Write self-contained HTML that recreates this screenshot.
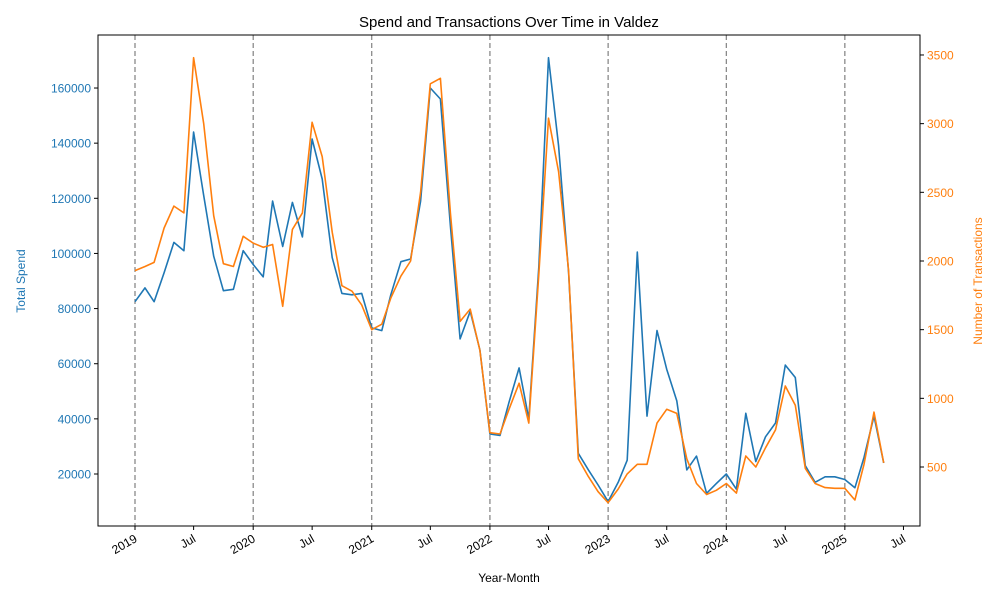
<!DOCTYPE html>
<html><head><meta charset="utf-8"><style>
body{margin:0;background:#fff}
svg text{font-family:"Liberation Sans","DejaVu Sans",sans-serif}
</style></head><body>
<svg id="c" width="1000" height="600" xmlns="http://www.w3.org/2000/svg"></svg>
<script>
const months = [];
for (let y = 2019; y <= 2025; y++) for (let m = 0; m < 12; m++) { if (y === 2025 && m > 4) break; months.push([y, m]); }
const spendValues = [82500,87500,82500,93000,104000,101000,144000,121000,99000,86500,87000,101000,
96000,91500,119000,102500,118500,106000,141500,127000,98500,85500,85000,85500,
73000,72000,85000,97000,98000,119000,160000,156000,110000,69000,79000,65000,
34500,34000,46000,58500,40000,95000,171000,139000,93000,27500,21500,16000,
10000,17000,25000,100500,41000,72000,58000,46500,21500,26500,13000,16500,
20000,14500,42000,24500,33500,38500,59500,55000,23000,17000,19000,19000,
18000,15000,26000,41000,24000];
const txValues = [1930,1960,1990,2240,2400,2350,3480,3000,2330,1980,1960,2180,
2130,2100,2120,1670,2230,2350,3010,2760,2210,1820,1780,1680,
1500,1540,1730,1890,2000,2500,3290,3330,2350,1560,1650,1350,
750,740,920,1110,820,1900,3040,2650,1930,560,430,320,
240,340,450,520,520,820,920,890,560,380,300,330,
380,310,580,500,640,770,1090,950,490,380,350,345,
345,260,520,900,530];
const leftTicks = [20000,40000,60000,80000,100000,120000,140000,160000];
const rightTicks = [500,1000,1500,2000,2500,3000,3500];
const xTickLabels = ["2019","Jul","2020","Jul","2021","Jul","2022","Jul","2023","Jul","2024","Jul","2025","Jul"];

const svg = document.getElementById('c');
const NS = 'http://www.w3.org/2000/svg';
function mk(tag, attrs, parent) { const e = document.createElementNS(NS, tag); for (const k in attrs) e.setAttribute(k, attrs[k]); (parent || svg).appendChild(e); return e; }
const L = 98, R = 920, T = 35, B = 526;
const t0 = Date.UTC(2019, 0, 1), yr = Date.UTC(2020, 0, 1) - t0;
function xS(y, m) { return 135 + (Date.UTC(y, m, 1) - t0) / yr * 118.2; }
function yL(v) { return 474 - (v - 20000) / 20000 * 55.14; }
function yR(v) { return 467 - (v - 500) / 500 * 68.67; }

const title = mk('text', {x: 509, y: 27, 'text-anchor': 'middle', 'font-size': 15});
title.textContent = 'Spend and Transactions Over Time in Valdez';



// year lines
for (let y = 2019; y <= 2025; y++) {
  const l = mk('line', {x1: xS(y,0), x2: xS(y,0), y1: T, y2: B, stroke: '#808080', 'stroke-width': 1.2, 'stroke-dasharray': '5,3'});
  
  
}
// x ticks
xTickLabels.forEach((lab, i) => {
  const y = 2019 + Math.floor(i / 2), m = (i % 2) * 6;
  const x = xS(y, m);
  mk('line', {x1: x, x2: x, y1: B, y2: B + 4, stroke: '#000'});
  const t = mk('text', {x: x + 3, y: B + 15, 'text-anchor': 'end', 'font-size': 12, transform: `rotate(-30 ${x + 3} ${B + 15})`});
  t.textContent = lab;
  
  
});
leftTicks.forEach(v => {
  const y = yL(v);
  mk('line', {x1: L - 4, x2: L, y1: y, y2: y, stroke: '#000'});
  const t = mk('text', {x: L - 7, y: y + 4.5, 'text-anchor': 'end', 'font-size': 12, fill: '#1f77b4'});
  t.textContent = v;
  
  
});
rightTicks.forEach(v => {
  const y = yR(v);
  mk('line', {x1: R, x2: R + 4, y1: y, y2: y, stroke: '#000'});
  const t = mk('text', {x: R + 7, y: y + 4.5, 'font-size': 12, fill: '#ff7f0e'});
  t.textContent = v;
  
  
});
function line(vals, fy, color, name) {
  const pts = vals.map((v, i) => xS(months[i][0], months[i][1]).toFixed(1) + ',' + fy(v).toFixed(1)).join(' ');
  const p = mk('polyline', {points: pts, fill: 'none', stroke: color, 'stroke-width': 1.6, 'stroke-linejoin': 'round'});
  
  
}
line(spendValues, yL, '#1f77b4', 'spend-line');
line(txValues, yR, '#ff7f0e', 'transactions-line');
const frame = mk('rect', {x: L, y: T, width: R - L, height: B - T, fill: 'none', stroke: '#000', 'stroke-width': 1});


const xl = mk('text', {x: 509, y: 582, 'text-anchor': 'middle', 'font-size': 12});
xl.textContent = 'Year-Month';


const yl = mk('text', {x: 25, y: 281, 'text-anchor': 'middle', 'font-size': 12, fill: '#1f77b4', transform: 'rotate(-90 25 281)'});
yl.textContent = 'Total Spend';


const yr2 = mk('text', {x: 982, y: 281, 'text-anchor': 'middle', 'font-size': 12, fill: '#ff7f0e', transform: 'rotate(-90 982 281)'});
yr2.textContent = 'Number of Transactions';


</script>
</body></html>
